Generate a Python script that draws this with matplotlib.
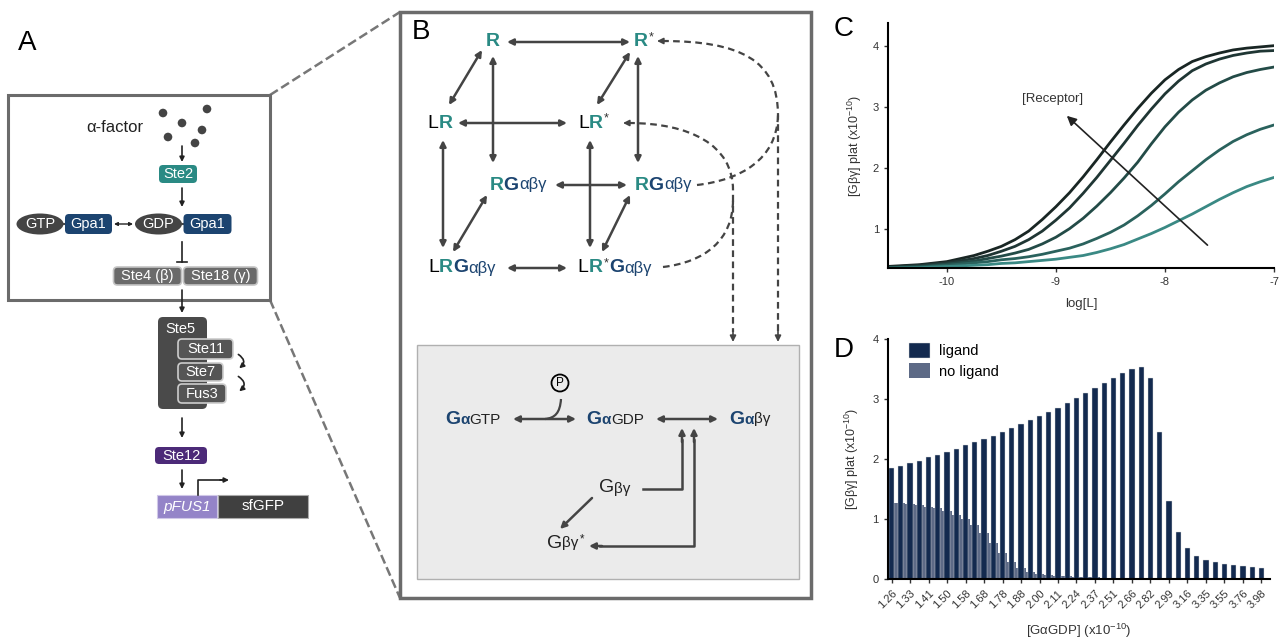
import matplotlib
matplotlib.use('Agg')
import matplotlib.pyplot as plt
import numpy as np
from matplotlib.patches import FancyBboxPatch, Rectangle, Ellipse, Circle, PathPatch, FancyArrowPatch
from matplotlib.path import Path
from matplotlib.offsetbox import TextArea, HPacker, AnnotationBbox

FONT = ['Liberation Sans', 'DejaVu Sans']
plt.rcParams['font.family'] = FONT
plt.rcParams['mathtext.fontset'] = 'custom'
plt.rcParams['mathtext.rm'] = 'Liberation Sans'
plt.rcParams['mathtext.it'] = 'Liberation Sans:italic'
plt.rcParams['axes.unicode_minus'] = False

# ---- data, panel C (dose response, one curve per receptor level) ----
log_l = [-10.55, -10.25, -10.0, -9.75, -9.625, -9.5, -9.375, -9.25, -9.125, -9.0,
         -8.875, -8.75, -8.625, -8.5, -8.375, -8.25, -8.125, -8.0, -7.875, -7.75,
         -7.625, -7.5, -7.375, -7.25, -7.125, -7.0]
gbg_r1 = [0.39, 0.42, 0.47, 0.57, 0.64, 0.72, 0.83, 0.97, 1.16, 1.37,
          1.60, 1.86, 2.14, 2.43, 2.71, 2.98, 3.23, 3.45, 3.62, 3.75,
          3.83, 3.89, 3.94, 3.97, 3.99, 4.01]
gbg_r2 = [0.38, 0.41, 0.45, 0.52, 0.57, 0.64, 0.72, 0.83, 0.97, 1.15,
          1.35, 1.59, 1.85, 2.13, 2.41, 2.70, 2.97, 3.22, 3.43, 3.60,
          3.71, 3.79, 3.85, 3.89, 3.92, 3.93]
gbg_r3 = [0.37, 0.39, 0.43, 0.48, 0.52, 0.56, 0.61, 0.67, 0.76, 0.87,
          1.01, 1.18, 1.38, 1.60, 1.84, 2.10, 2.40, 2.68, 2.92, 3.12,
          3.28, 3.40, 3.50, 3.57, 3.62, 3.66]
gbg_r4 = [0.37, 0.38, 0.41, 0.45, 0.47, 0.50, 0.52, 0.55, 0.59, 0.64,
          0.69, 0.76, 0.85, 0.95, 1.07, 1.22, 1.39, 1.58, 1.78, 1.96,
          2.14, 2.30, 2.44, 2.55, 2.64, 2.71]
gbg_r5 = [0.36, 0.37, 0.39, 0.41, 0.42, 0.44, 0.45, 0.47, 0.49, 0.51,
          0.54, 0.57, 0.62, 0.68, 0.75, 0.84, 0.93, 1.03, 1.14, 1.25,
          1.37, 1.49, 1.60, 1.70, 1.78, 1.85]
curve_colors = ['#192624', '#1f3634', '#234b47', '#2a625d', '#3a8984']

# ---- data, panel D ----
gdp_labels = ['1.26', '1.33', '1.41', '1.50', '1.58', '1.68', '1.78', '1.88', '2.00', '2.11',
              '2.24', '2.37', '2.51', '2.66', '2.82', '2.99', '3.16', '3.35', '3.55', '3.76', '3.98']
ligand = [1.85, 1.89, 1.93, 1.97, 2.03, 2.07, 2.12, 2.17, 2.23, 2.28,
          2.34, 2.39, 2.46, 2.52, 2.58, 2.66, 2.72, 2.79, 2.86, 2.94,
          3.02, 3.10, 3.18, 3.27, 3.36, 3.44, 3.51, 3.53, 3.36, 2.46,
          1.31, 0.78, 0.52, 0.39, 0.32, 0.28, 0.25, 0.23, 0.22, 0.21, 0.19]
no_ligand = [1.27, 1.27, 1.25, 1.23, 1.21, 1.18, 1.14, 1.07, 1.00, 0.90,
             0.77, 0.61, 0.44, 0.29, 0.18, 0.12, 0.09, 0.07, 0.06, 0.05,
             0.04, 0.03, 0.03, 0.02, 0.02, 0.02, 0.01, 0.01, 0.01, 0.01,
             0.01, 0.01, 0.01, 0.01, 0.01, 0.01, 0.01, 0.01, 0.01, 0.01, 0.01]

TEAL = '#2a8a84'
NAVY = '#1c4470'
DARK = '#444444'

fig = plt.figure(figsize=(12.83, 6.42), dpi=100)

# overlay in pixel coordinates for the diagrams
ax0 = fig.add_axes([0, 0, 1, 1])
ax0.set_xlim(0, 1283)
ax0.set_ylim(642, 0)
ax0.axis('off')


def box(x, y, w, h, fc, ec='none', lw=0, r=4, z=3):
    ax0.add_patch(FancyBboxPatch((x - w / 2, y - h / 2), w, h,
                                 boxstyle=f"round,pad=0,rounding_size={r}",
                                 fc=fc, ec=ec, lw=lw, zorder=z))


def label(x, y, s, color='white', size=10.5, **kw):
    ax0.text(x, y, s, ha='center', va='center', color=color, fontsize=size, zorder=6, **kw)


def arrow(x1, y1, x2, y2, style='-|>', lw=1.2, color='#222222', ms=8, z=4):
    ax0.annotate('', xy=(x2, y2), xytext=(x1, y1),
                 arrowprops=dict(arrowstyle=style, color=color, lw=lw, mutation_scale=ms,
                                 shrinkA=0, shrinkB=0), zorder=z)


def rich(x, y, parts, ha=0.5):
    areas = [TextArea(t, textprops=dict(color=c, fontsize=s, family=FONT,
                                        fontweight='bold' if b else 'normal'))
             for t, c, s, b in parts]
    pack = HPacker(children=areas, align='baseline', pad=0, sep=0)
    ab = AnnotationBbox(pack, (x, y), xycoords='data', frameon=False,
                        box_alignment=(ha, 0.5), pad=0, zorder=6)
    ax0.add_artist(ab)


def dashed(verts, codes):
    ax0.add_patch(PathPatch(Path(verts, codes), fc='none', ec=DARK, lw=1.6,
                            ls=(0, (3, 2)), zorder=3))


STAR = r'$^{\mathregular{*}}$'

# ---------------- panel A ----------------
ax0.text(27, 43, 'A', fontsize=20, ha='center', va='center')
ax0.plot([270, 400], [95, 12], ls='--', color='#777777', lw=1.8, zorder=1)
ax0.plot([270, 400], [300, 598], ls='--', color='#777777', lw=1.8, zorder=1)
ax0.add_patch(Rectangle((8, 95), 262, 205, fc='white', ec='#6b6b6b', lw=2.2, zorder=2))

for dx, dy in [(163, 113), (207, 109), (182, 123), (202, 130), (168, 137), (195, 143)]:
    ax0.add_patch(Circle((dx, dy), 4.3, fc=DARK, ec='none', zorder=3))
label(115, 127, 'α-factor', color='#222222', size=12)
arrow(182, 146, 182, 162, ms=7)
box(178, 174, 38, 18, TEAL)
label(178, 174, 'Ste2')
arrow(182, 188, 182, 207, ms=7)

ax0.plot([58, 70], [224, 224], color=DARK, lw=1.5, zorder=3)
ax0.plot([178, 188], [224, 224], color=DARK, lw=1.5, zorder=3)
ax0.add_patch(Ellipse((40, 224), 47, 21, fc=DARK, zorder=3))
label(40, 224, 'GTP')
box(88.5, 224, 47, 20, NAVY)
label(88.5, 224, 'Gpa1')
arrow(114, 224, 133, 224, style='<|-|>', ms=5, lw=1.0)
ax0.add_patch(Ellipse((158.5, 224), 47, 21, fc=DARK, zorder=3))
label(158.5, 224, 'GDP')
box(207.5, 224, 48, 20, NAVY)
label(207.5, 224, 'Gpa1')

ax0.plot([182, 182], [242, 262], color='#222222', lw=1.2, zorder=3)
ax0.plot([177, 187], [262, 262], color='#222222', lw=1.2, zorder=3)
box(147.5, 276, 68, 18, '#6a6a6a', ec='#c4c4c4', lw=1.2)
label(147.5, 276, 'Ste4 (β)')
box(220.5, 276, 74, 18, '#6a6a6a', ec='#c4c4c4', lw=1.2)
label(220.5, 276, 'Ste18 (γ)')

arrow(182, 290, 182, 313, ms=7)
box(182.5, 363, 49, 92, '#4a4a4a', r=5)
label(180, 329, 'Ste5')
box(205.5, 349, 55, 20, '#555555', ec='#cccccc', lw=1.2)
label(205.5, 349, 'Ste11')
box(200.5, 372, 45, 18, '#555555', ec='#cccccc', lw=1.2)
label(200.5, 372, 'Ste7')
box(202, 393.5, 48, 19, '#555555', ec='#cccccc', lw=1.2)
label(202, 393.5, 'Fus3')
for y1, y2 in [(353, 370), (375, 393)]:
    ax0.add_patch(FancyArrowPatch((236, y1), (237, y2), connectionstyle='arc3,rad=-0.8',
                                  arrowstyle='-|>', mutation_scale=7, lw=1.2, color='#222222',
                                  zorder=4))

arrow(182, 418, 182, 438, ms=7)
box(181, 455.5, 52, 17, '#4c2a78')
label(181, 455.5, 'Ste12')
arrow(182, 470, 182, 489, ms=7)
ax0.add_patch(Rectangle((157, 495), 60, 23, fc='#9484c8', ec='#d0c8e8', lw=0.8, zorder=3))
label(187, 506.5, 'pFUS1', size=11, style='italic')
ax0.add_patch(Rectangle((218, 495), 90, 23, fc='#404040', ec='#aaaaaa', lw=0.8, zorder=3))
label(263, 506.5, 'sfGFP', size=11)
ax0.plot([198, 198, 222], [495, 480, 480], color='#222222', lw=1.2, zorder=4)
arrow(220, 480, 229, 480, ms=7)

# ---------------- panel B ----------------
ax0.add_patch(Rectangle((400, 12), 411, 586, fc='white', ec='#6b6b6b', lw=2.5, zorder=2))
ax0.text(421, 32, 'B', fontsize=20, ha='center', va='center', zorder=6)
ax0.add_patch(Rectangle((417, 345), 382, 234, fc='#ebebeb', ec='#b0b0b0', lw=1.0, zorder=2))

S, s = 14, 12
rich(493, 42, [('R', TEAL, S, True)])
rich(644, 42, [('R', TEAL, S, True), (STAR, '#333333', 13, False)])
rich(440, 123, [('L', 'black', S, False), ('R', TEAL, S, True)])
rich(594, 123, [('L', 'black', S, False), ('R', TEAL, S, True), (STAR, '#333333', 13, False)])
rich(518, 185, [('R', TEAL, S, True), ('G', NAVY, S, True), ('αβγ', NAVY, s, False)])
rich(663, 185, [('R', TEAL, S, True), ('G', NAVY, S, True), ('αβγ', NAVY, s, False)])
rich(462, 268, [('L', 'black', S, False), ('R', TEAL, S, True), ('G', NAVY, S, True),
                ('αβγ', NAVY, s, False)])
rich(615, 268, [('L', 'black', S, False), ('R', TEAL, S, True), (STAR, '#333333', 13, False),
                ('G', NAVY, S, True), ('αβγ', NAVY, s, False)])

dbl = dict(style='<|-|>', lw=1.8, color=DARK, ms=9)
for seg in [((507, 42), (630, 42)), ((482, 50), (449, 105)), ((493, 56), (493, 163)),
            ((458, 123), (567, 123)), ((630, 52), (597, 105)), ((638, 56), (638, 163)),
            ((443, 140), (443, 248)), ((555, 185), (627, 185)), ((487, 195), (453, 252)),
            ((590, 140), (590, 248)), ((630, 195), (602, 252)), ((507, 268), (567, 268))]:
    arrow(seg[0][0], seg[0][1], seg[1][0], seg[1][1], **dbl)

C4 = Path.CURVE4
dashed([(662, 41), (740, 41), (778, 60), (778, 115), (778, 332)],
       [Path.MOVETO, C4, C4, C4, Path.LINETO])
dashed([(697, 185), (740, 180), (777, 160), (778, 115)], [Path.MOVETO, C4, C4, C4])
dashed([(628, 123), (690, 123), (733, 145), (733, 190), (733, 332)],
       [Path.MOVETO, C4, C4, C4, Path.LINETO])
dashed([(663, 267), (705, 262), (733, 240), (733, 200)], [Path.MOVETO, C4, C4, C4])
arrow(668, 41, 657, 41, color=DARK, ms=9)
arrow(634, 123, 623, 123, color=DARK, ms=9)
arrow(778, 330, 778, 342, color=DARK, ms=9)
arrow(733, 330, 733, 342, color=DARK, ms=9)

# inner G protein cycle
rich(473, 419, [('G', NAVY, 14, True), ('α', NAVY, 11, True), ('GTP', '#222222', 11, False)])
rich(615, 419, [('G', NAVY, 14, True), ('α', NAVY, 11, True), ('GDP', '#222222', 11, False)])
rich(750, 419, [('G', NAVY, 14, True), ('α', NAVY, 11, True), ('βγ', '#222222', 11, False)])
rich(615, 488, [('G', '#222222', 14, False), ('βγ', '#222222', 11, False)])
rich(566, 543, [('G', '#222222', 14, False), ('βγ', '#222222', 11, False),
                (STAR, '#222222', 12, False)])
arrow(513, 419, 576, 419, **dbl)
arrow(656, 419, 718, 419, **dbl)
ax0.add_patch(Circle((560, 383), 8.5, fc='none', ec='black', lw=1.3, zorder=4))
label(560, 383.5, 'P', color='black', size=8.5)
ax0.add_patch(PathPatch(Path([(561, 399), (560, 413), (555, 418), (545, 419)],
                             [Path.MOVETO, C4, C4, C4]),
                        fc='none', ec=DARK, lw=1.6, zorder=4))
ax0.plot([643, 682, 682], [489, 489, 440], color=DARK, lw=1.8, zorder=4)
arrow(682, 442, 682, 428, color=DARK, ms=9, lw=1.8)
ax0.plot([600, 694, 694], [546, 546, 440], color=DARK, lw=1.8, zorder=4)
arrow(694, 442, 694, 428, color=DARK, ms=9, lw=1.8)
arrow(602, 546, 589, 546, color=DARK, ms=9, lw=1.8)
arrow(592, 498, 560, 529, color=DARK, ms=9, lw=1.8)

# ---------------- panel C ----------------
ax0.text(844, 29, 'C', fontsize=20, ha='center', va='center')
axC = fig.add_axes([0.6921, 0.583, 0.3009, 0.381])
axC.patch.set_alpha(0)
for vals, col in zip([gbg_r1, gbg_r2, gbg_r3, gbg_r4, gbg_r5], curve_colors):
    axC.plot(log_l, vals, color=col, lw=2.0, solid_capstyle='round', solid_joinstyle='round')
axC.set_xlim(-10.54, -7)
axC.set_ylim(0.37, 4.38)
axC.set_xticks([-10, -9, -8, -7])
axC.set_yticks([1, 2, 3, 4])
axC.annotate('', xy=(-8.90, 2.86), xytext=(-7.61, 0.74),
             arrowprops=dict(arrowstyle='-|>', color='#222222', lw=1.2, mutation_scale=14,
                             shrinkA=0, shrinkB=0))
axC.text(-9.03, 3.13, '[Receptor]', fontsize=9.5, color='#333333', ha='center', va='center')
axC.set_xlabel('log[L]', fontsize=9.5, color='#333333', labelpad=8)
axC.set_ylabel(r'[Gβγ] plat (x10$^{\mathregular{-10}}$)', fontsize=9, color='#333333', labelpad=6)

# ---------------- panel D ----------------
ax0.text(844, 350, 'D', fontsize=20, ha='center', va='center')
axD = fig.add_axes([0.692, 0.0977, 0.2977, 0.3738])
axD.patch.set_alpha(0)
xpos = np.arange(len(ligand))
b_no = axD.bar(xpos, no_ligand, width=1.0, color='#5d6a86', zorder=1)
b_li = axD.bar(xpos, ligand, width=0.55, color='#132a4f', edgecolor='#dddddd', linewidth=0.3,
               zorder=2)
axD.set_xlim(-0.4, 40.9)
axD.set_ylim(0, 4)
axD.set_yticks([0, 1, 2, 3, 4])
axD.set_xticks(xpos[::2])
axD.set_xticklabels(gdp_labels, rotation=45, ha='right', rotation_mode='anchor')
axD.legend([b_li, b_no], ['ligand', 'no ligand'], loc='upper left', bbox_to_anchor=(0.02, 1.04),
           frameon=False, fontsize=10.5, handlelength=1.5, handleheight=1.2, labelspacing=0.35,
           handletextpad=0.6)
axD.set_xlabel(r'[GαGDP] (x10$^{\mathregular{-10}}$)', fontsize=9.5, color='#333333', labelpad=8)
axD.set_ylabel(r'[Gβγ] plat (x10$^{\mathregular{-10}}$)', fontsize=9, color='#333333', labelpad=8)

for a in (axC, axD):
    a.spines['top'].set_visible(False)
    a.spines['right'].set_visible(False)
    a.spines['left'].set_linewidth(1.5)
    a.spines['bottom'].set_linewidth(1.5)
    a.tick_params(labelsize=8, length=3, width=1.0, colors='#333333')

fig.savefig('out.png', dpi=100)
